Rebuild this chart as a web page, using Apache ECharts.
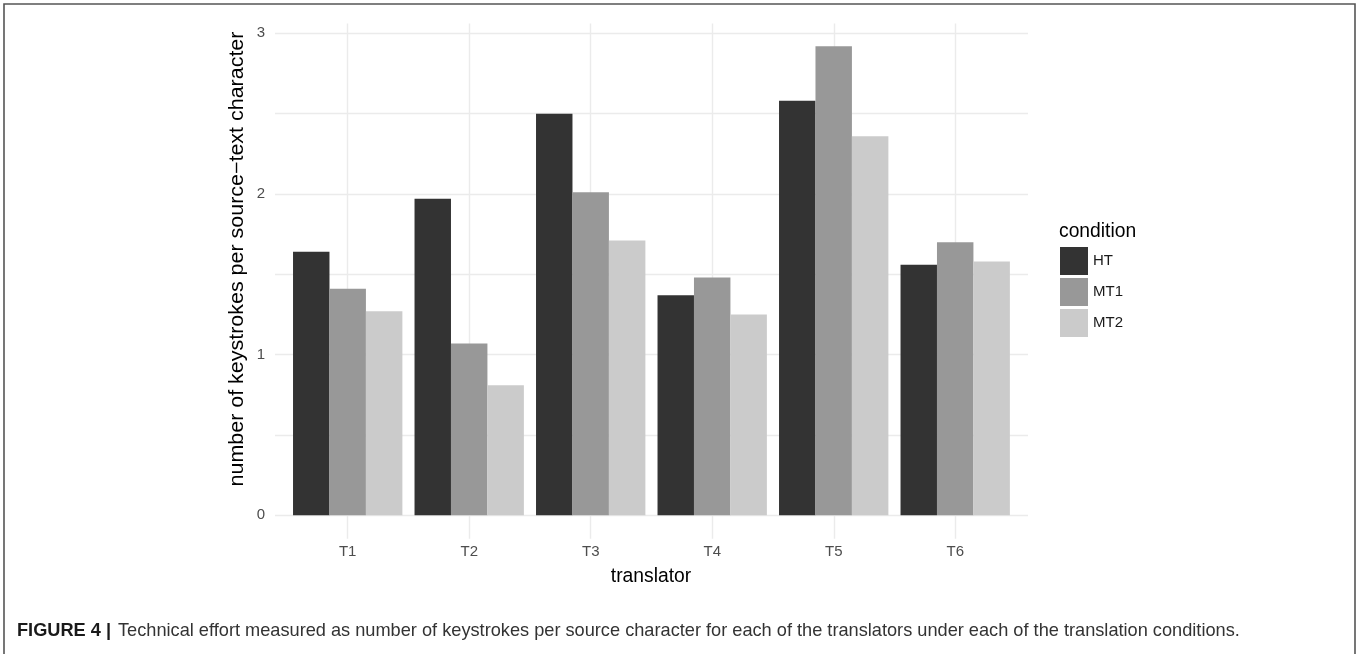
<!DOCTYPE html>
<html>
<head>
<meta charset="utf-8">
<script src="https://cdn.jsdelivr.net/npm/echarts@6/dist/echarts.min.js"></script>
<style>
html,body{margin:0;padding:0;background:#fff;}
#chart{width:1357px;height:654px;}
</style>
</head>
<body>
<div id="chart"></div>
<script>
const categories = ['T1', 'T2', 'T3', 'T4', 'T5', 'T6'];
const seriesNames = ['HT', 'MT1', 'MT2'];
const HT  = [1.64, 1.97, 2.50, 1.37, 2.58, 1.56];
const MT1 = [1.41, 1.07, 2.01, 1.48, 2.92, 1.70];
const MT2 = [1.27, 0.81, 1.71, 1.25, 2.36, 1.58];
const yTickLabels = [0, 1, 2, 3];
const colors = ['#333333', '#989898', '#CBCBCB'];

const FONT = "'Liberation Sans', Arial, sans-serif";
const GRIDC = '#EBEBEB';
const chart = echarts.init(document.getElementById('chart'), null, {renderer: 'canvas'});

const option = {
  animation: false,
  textStyle: {fontFamily: FONT},
  grid: [
    {left: 275, width: 753, top: 33.3, height: 482},
    {left: 286.95, width: 729, top: 33.3, height: 482},
    {left: 347.7, width: 607.6, top: 23.5, height: 515.2}
  ],
  xAxis: [
    {gridIndex: 0, type: 'category', data: categories, show: false},
    {gridIndex: 1, type: 'category', data: categories, show: false},
    {gridIndex: 2, type: 'category', data: categories, boundaryGap: false,
      axisLine: {show: false}, axisTick: {show: false},
      splitLine: {show: true, lineStyle: {color: GRIDC, width: 1.4}},
      axisLabel: {fontSize: 15, color: '#4D4D4D', margin: 6, fontFamily: FONT}}
  ],
  yAxis: [
    {gridIndex: 0, type: 'value', min: 0, max: 3, interval: 0.5,
      axisLine: {show: false}, axisTick: {show: false},
      splitLine: {show: true, lineStyle: {color: GRIDC, width: 1.4}},
      axisLabel: {fontSize: 15, color: '#4D4D4D', margin: 10, fontFamily: FONT,
        formatter: function (v) { return yTickLabels.indexOf(v) >= 0 ? String(v) : ''; }}},
    {gridIndex: 1, type: 'value', min: 0, max: 3, show: false},
    {gridIndex: 2, type: 'value', min: 0, max: 1, show: false}
  ],
  legend: {
    data: seriesNames, orient: 'vertical', left: 1060, top: 247,
    itemWidth: 28, itemHeight: 28, itemGap: 3, padding: 0, icon: 'rect',
    selectedMode: false,
    textStyle: {fontSize: 15, color: '#1A1A1A', fontFamily: FONT}
  },
  series: [HT, MT1, MT2].map(function (vals, i) {
    return {
      name: seriesNames[i], type: 'bar', xAxisIndex: 1, yAxisIndex: 1,
      data: vals, barGap: '0%', barCategoryGap: '10%',
      itemStyle: {color: colors[i]}
    };
  }),
  graphic: [
    {type: 'polyline', silent: true, z: 100,
      shape: {points: [[4, 654], [4, 4], [1355, 4], [1355, 654]]},
      style: {stroke: '#555555', lineWidth: 1.6, fill: null}},
    {type: 'text', x: 238, y: 259, rotation: Math.PI / 2, scaleX: 1.1,
      style: {text: 'number of keystrokes per source\u2212text character', fill: '#000000',
        font: '19.5px ' + FONT, textAlign: 'center', textVerticalAlign: 'middle'}},
    {type: 'text', x: 651, y: 577,
      style: {text: 'translator', fill: '#000000', font: '19.3px ' + FONT,
        textAlign: 'center', textVerticalAlign: 'middle'}},
    {type: 'text', x: 1059, y: 232,
      style: {text: 'condition', fill: '#000000', font: '19.3px ' + FONT,
        textAlign: 'left', textVerticalAlign: 'middle'}},
    {type: 'text', x: 17, y: 631,
      style: {text: 'FIGURE 4 |', fill: '#1A1A1A', font: 'bold 18.2px ' + FONT,
        textAlign: 'left', textVerticalAlign: 'middle'}},
    {type: 'text', x: 118, y: 631,
      style: {text: 'Technical effort measured as number of keystrokes per source character for each of the translators under each of the translation conditions.',
        fill: '#333333', font: '18.2px ' + FONT, textAlign: 'left', textVerticalAlign: 'middle'}}
  ]
};
chart.setOption(option);
</script>
</body>
</html>
